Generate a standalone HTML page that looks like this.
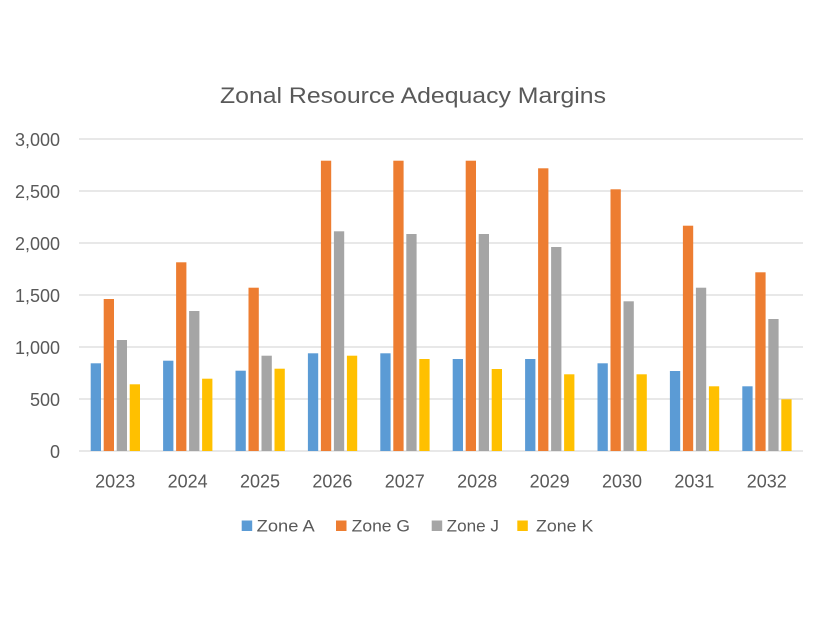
<!DOCTYPE html>
<html><head><meta charset="utf-8"><style>
html,body{margin:0;padding:0;background:#fff;}
svg{display:block;}
text{font-family:"Liberation Sans",Arial,sans-serif;fill:#595959;}
</style></head><body>
<svg width="826" height="620" viewBox="0 0 826 620" xmlns="http://www.w3.org/2000/svg">
<rect width="826" height="620" fill="#fff"/>
<text x="413" y="103" font-size="22" text-anchor="middle" textLength="386" lengthAdjust="spacingAndGlyphs">Zonal Resource Adequacy Margins</text>
<g stroke="#d9d9d9" stroke-width="1.3">
<line x1="79" y1="139" x2="803" y2="139"/>
<line x1="79" y1="191" x2="803" y2="191"/>
<line x1="79" y1="243" x2="803" y2="243"/>
<line x1="79" y1="295" x2="803" y2="295"/>
<line x1="79" y1="347" x2="803" y2="347"/>
<line x1="79" y1="399" x2="803" y2="399"/>
<line x1="79" y1="451" x2="803" y2="451"/>
</g>
<g font-size="18" text-anchor="end">
<text x="60" y="146">3,000</text>
<text x="60" y="198">2,500</text>
<text x="60" y="250">2,000</text>
<text x="60" y="302">1,500</text>
<text x="60" y="354">1,000</text>
<text x="60" y="406">500</text>
<text x="60" y="458">0</text>
</g>
<g font-size="18" text-anchor="middle">
<text x="115.2" y="487.5">2023</text>
<text x="187.6" y="487.5">2024</text>
<text x="260" y="487.5">2025</text>
<text x="332.4" y="487.5">2026</text>
<text x="404.8" y="487.5">2027</text>
<text x="477.2" y="487.5">2028</text>
<text x="549.6" y="487.5">2029</text>
<text x="622" y="487.5">2030</text>
<text x="694.4" y="487.5">2031</text>
<text x="766.8" y="487.5">2032</text>
</g>
<g fill="#5B9BD5">
<rect x="90.7" y="363.3" width="10.3" height="87.7"/>
<rect x="163.1" y="360.7" width="10.3" height="90.3"/>
<rect x="235.5" y="370.7" width="10.3" height="80.3"/>
<rect x="307.9" y="353.3" width="10.3" height="97.7"/>
<rect x="380.3" y="353.3" width="10.3" height="97.7"/>
<rect x="452.7" y="359" width="10.3" height="92"/>
<rect x="525.1" y="359" width="10.3" height="92"/>
<rect x="597.5" y="363.3" width="10.3" height="87.7"/>
<rect x="669.9" y="371" width="10.3" height="80"/>
<rect x="742.3" y="386.3" width="10.3" height="64.7"/>
</g>
<g fill="#ED7D31">
<rect x="103.7" y="299" width="10.3" height="152"/>
<rect x="176.1" y="262.3" width="10.3" height="188.7"/>
<rect x="248.5" y="287.7" width="10.3" height="163.3"/>
<rect x="320.9" y="160.7" width="10.3" height="290.3"/>
<rect x="393.3" y="160.7" width="10.3" height="290.3"/>
<rect x="465.7" y="160.7" width="10.3" height="290.3"/>
<rect x="538.1" y="168.3" width="10.3" height="282.7"/>
<rect x="610.5" y="189.3" width="10.3" height="261.7"/>
<rect x="682.9" y="225.7" width="10.3" height="225.3"/>
<rect x="755.3" y="272.3" width="10.3" height="178.7"/>
</g>
<g fill="#A5A5A5">
<rect x="116.7" y="340" width="10.3" height="111"/>
<rect x="189.1" y="311" width="10.3" height="140"/>
<rect x="261.5" y="355.7" width="10.3" height="95.3"/>
<rect x="333.9" y="231.3" width="10.3" height="219.7"/>
<rect x="406.3" y="234" width="10.3" height="217"/>
<rect x="478.7" y="234" width="10.3" height="217"/>
<rect x="551.1" y="247" width="10.3" height="204"/>
<rect x="623.5" y="301.3" width="10.3" height="149.7"/>
<rect x="695.9" y="287.7" width="10.3" height="163.3"/>
<rect x="768.3" y="319" width="10.3" height="132"/>
</g>
<g fill="#FFC000">
<rect x="129.7" y="384.3" width="10.3" height="66.7"/>
<rect x="202.1" y="378.7" width="10.3" height="72.3"/>
<rect x="274.5" y="368.7" width="10.3" height="82.3"/>
<rect x="346.9" y="355.7" width="10.3" height="95.3"/>
<rect x="419.3" y="359" width="10.3" height="92"/>
<rect x="491.7" y="369" width="10.3" height="82"/>
<rect x="564.1" y="374.3" width="10.3" height="76.7"/>
<rect x="636.5" y="374.3" width="10.3" height="76.7"/>
<rect x="708.9" y="386.3" width="10.3" height="64.7"/>
<rect x="781.3" y="399.3" width="10.3" height="51.7"/>
</g>
<g font-size="17">
<rect x="241.7" y="520.5" width="10.5" height="10.5" fill="#5B9BD5"/>
<text x="256.7" y="531.7" textLength="58" lengthAdjust="spacingAndGlyphs">Zone A</text>
<rect x="336" y="520.5" width="10.5" height="10.5" fill="#ED7D31"/>
<text x="351.7" y="531.7" textLength="58.3" lengthAdjust="spacingAndGlyphs">Zone G</text>
<rect x="431.7" y="520.5" width="10.5" height="10.5" fill="#A5A5A5"/>
<text x="446.7" y="531.7" textLength="52.3" lengthAdjust="spacingAndGlyphs">Zone J</text>
<rect x="517.3" y="520.5" width="10.5" height="10.5" fill="#FFC000"/>
<text x="536" y="531.7" textLength="57.3" lengthAdjust="spacingAndGlyphs">Zone K</text>
</g>
</svg>
</body></html>
